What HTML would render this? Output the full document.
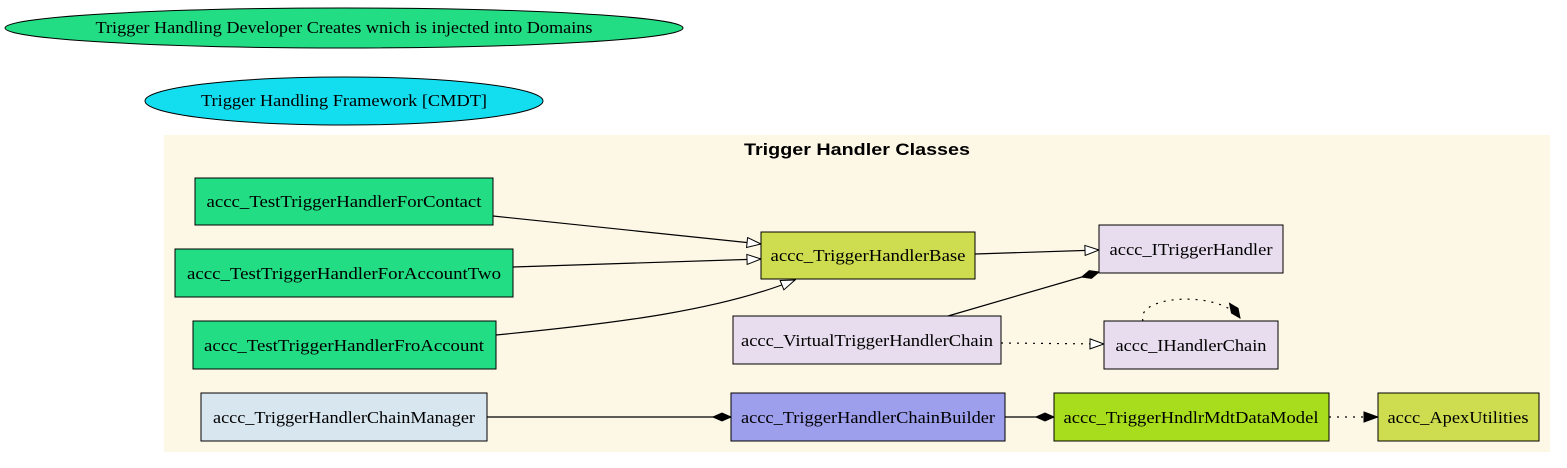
<!DOCTYPE html>
<html><head><meta charset="utf-8"><style>body{margin:0;background:#fff}svg{display:block}</style></head>
<body>
<svg width="1567" height="468" viewBox="0 0 1567 468" xmlns="http://www.w3.org/2000/svg" font-family="Liberation Serif, serif" font-size="17">
<defs>
<marker id="open" markerWidth="16" markerHeight="12" refX="15" refY="6" orient="auto" markerUnits="userSpaceOnUse"><path d="M1,1 L15,6 L1,11 Z" fill="#fff" stroke="#000"/></marker>
<marker id="fill" markerWidth="16" markerHeight="12" refX="15" refY="6" orient="auto" markerUnits="userSpaceOnUse"><path d="M1,1 L15,6 L1,11 Z" fill="#000" stroke="#000"/></marker>
<marker id="dia" markerWidth="20" markerHeight="10" refX="19" refY="5" orient="auto" markerUnits="userSpaceOnUse"><path d="M1,5 L10,1 L19,5 L10,9 Z" fill="#000" stroke="#000"/></marker>
</defs>
<ellipse cx="344" cy="28" rx="339" ry="20" fill="#22dd83" stroke="#000"/>
<text x="344" y="33" text-anchor="middle" textLength="497" lengthAdjust="spacingAndGlyphs">Trigger Handling Developer Creates wnich is injected into Domains</text>
<ellipse cx="344" cy="101" rx="199" ry="24" fill="#13def0" stroke="#000"/>
<text x="344" y="106" text-anchor="middle" textLength="286" lengthAdjust="spacingAndGlyphs">Trigger Handling Framework [CMDT]</text>
<rect x="164" y="135" width="1386" height="317" fill="#fdf7e6"/>
<text x="857" y="155" text-anchor="middle" font-family="Liberation Sans, sans-serif" font-weight="bold" font-size="17" textLength="226" lengthAdjust="spacingAndGlyphs">Trigger Handler Classes</text>
<g stroke="#000" fill="none" stroke-width="1.2">
<path d="M493,216 L761,244" marker-end="url(#open)"/>
<path d="M513,267 L761,259" marker-end="url(#open)"/>
<path d="M496,335 C620,323 720,310 795,280" marker-end="url(#open)"/>
<path d="M975,254 L1099,250" marker-end="url(#open)"/>
<path d="M948,316 L1099,272" marker-end="url(#dia)"/>
<path d="M1001,343 L1104,344" stroke-dasharray="2,6" marker-end="url(#open)"/>
<path d="M1143,321 C1135,295 1220,290 1240,318" stroke-dasharray="2,6" marker-end="url(#dia)"/>
<path d="M487,417 L731,417" marker-end="url(#dia)"/>
<path d="M1005,417 L1054,417" marker-end="url(#dia)"/>
<path d="M1329,417 L1378,417" stroke-dasharray="2,6" marker-end="url(#fill)"/>
</g>
<g stroke="#000" stroke-width="1">
<rect x="195" y="178" width="298" height="47" fill="#22dd83"/>
<rect x="175" y="249" width="338" height="48" fill="#22dd83"/>
<rect x="193" y="321" width="303" height="48" fill="#22dd83"/>
<rect x="761" y="232" width="214" height="47" fill="#cddd4f"/>
<rect x="1099" y="225" width="184" height="48" fill="#e8ddee"/>
<rect x="733" y="316" width="268" height="48" fill="#e8ddee"/>
<rect x="1104" y="321" width="174" height="48" fill="#e8ddee"/>
<rect x="201" y="393" width="286" height="48" fill="#d8e6f0"/>
<rect x="731" y="393" width="274" height="48" fill="#9d9eec"/>
<rect x="1054" y="393" width="275" height="48" fill="#a8dd1e"/>
<rect x="1378" y="393" width="161" height="48" fill="#cddd4f"/>
</g>
<g text-anchor="middle" lengthAdjust="spacingAndGlyphs">
<text x="344" y="207" textLength="275" lengthAdjust="spacingAndGlyphs">accc_TestTriggerHandlerForContact</text>
<text x="344" y="279" textLength="314" lengthAdjust="spacingAndGlyphs">accc_TestTriggerHandlerForAccountTwo</text>
<text x="344" y="351" textLength="280" lengthAdjust="spacingAndGlyphs">accc_TestTriggerHandlerFroAccount</text>
<text x="868" y="261" textLength="195" lengthAdjust="spacingAndGlyphs">accc_TriggerHandlerBase</text>
<text x="1191" y="255" textLength="163" lengthAdjust="spacingAndGlyphs">accc_ITriggerHandler</text>
<text x="867" y="346" textLength="252" lengthAdjust="spacingAndGlyphs">accc_VirtualTriggerHandlerChain</text>
<text x="1191" y="351" textLength="151" lengthAdjust="spacingAndGlyphs">accc_IHandlerChain</text>
<text x="344" y="423" textLength="262" lengthAdjust="spacingAndGlyphs">accc_TriggerHandlerChainManager</text>
<text x="868" y="423" textLength="254" lengthAdjust="spacingAndGlyphs">accc_TriggerHandlerChainBuilder</text>
<text x="1191" y="423" textLength="255" lengthAdjust="spacingAndGlyphs">accc_TriggerHndlrMdtDataModel</text>
<text x="1458" y="423" textLength="141" lengthAdjust="spacingAndGlyphs">accc_ApexUtilities</text>
</g>
</svg>
</body></html>
